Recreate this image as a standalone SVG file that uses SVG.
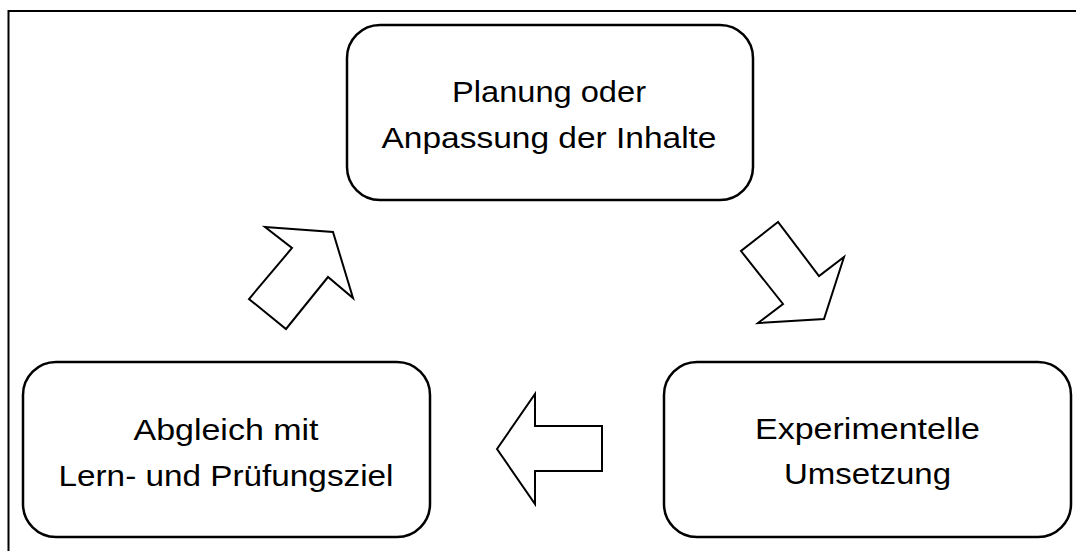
<svg xmlns="http://www.w3.org/2000/svg" width="1076" height="551" viewBox="0 0 1076 551">
<style>
.box{fill:#fff;stroke:#000;stroke-width:2.5}
.arr{fill:#fff;stroke:#000;stroke-width:2;stroke-linejoin:miter}
.t{font-family:"Liberation Sans",Arial,sans-serif;font-size:30px;fill:#000;text-anchor:middle}
.frame{fill:none;stroke:#000;stroke-width:2}
</style>
<rect width="1076" height="551" fill="#fff"/>
<path class="frame" d="M8.5,551 V11 H1076"/>
<g id="node-planung">
<rect class="box" x="347" y="25" width="406" height="175" rx="33"/>
<text class="t" x="549" y="102" textLength="194" lengthAdjust="spacingAndGlyphs">Planung oder</text>
<text class="t" x="549" y="148" textLength="335" lengthAdjust="spacingAndGlyphs">Anpassung der Inhalte</text>
</g>
<g id="node-experimentelle">
<rect class="box" x="664" y="362" width="407" height="175" rx="33"/>
<text class="t" x="867.5" y="439" textLength="225" lengthAdjust="spacingAndGlyphs">Experimentelle</text>
<text class="t" x="867.5" y="484" textLength="167" lengthAdjust="spacingAndGlyphs">Umsetzung</text>
</g>
<g id="node-abgleich">
<rect class="box" x="23" y="362" width="407" height="175" rx="33"/>
<text class="t" x="226" y="440" textLength="185" lengthAdjust="spacingAndGlyphs">Abgleich mit</text>
<text class="t" x="226" y="486" textLength="335" lengthAdjust="spacingAndGlyphs">Lern- und Prüfungsziel</text>
</g>
<g id="connectors">
<polygon class="arr" points="265,227 333,232 353,298 328,277 286,329 249,299 292,248"/>
<polygon class="arr" points="778,222 741,251 783,304 758,323 824,319 844,257 819,276"/>
<polygon class="arr" points="602,426 535,426 535,394 497,449 535,504 535,471 602,471"/>
</g>
</svg>
